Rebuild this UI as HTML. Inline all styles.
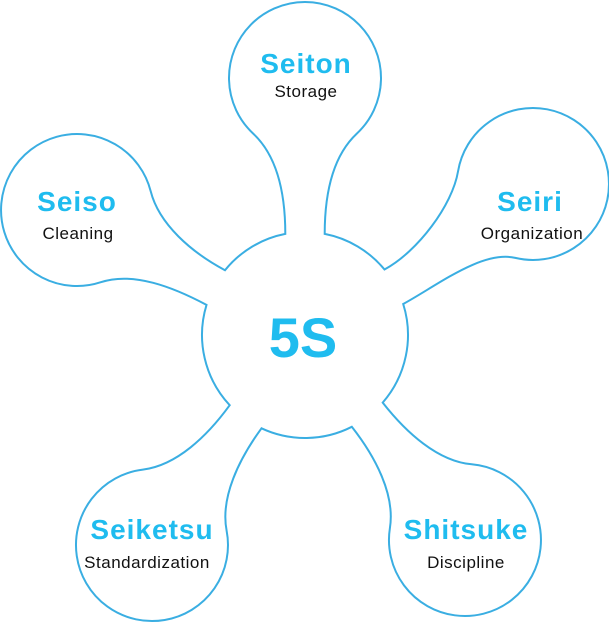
<!DOCTYPE html>
<html><head><meta charset="utf-8"><style>
html,body{margin:0;padding:0;background:#fff;width:609px;height:623px;overflow:hidden}
svg{display:block}
.t{font-family:"Liberation Sans",sans-serif;font-weight:bold;fill:#1fbcef;text-anchor:middle;letter-spacing:1px}
.s{font-family:"Liberation Sans",sans-serif;fill:#111;text-anchor:middle;font-size:17px;letter-spacing:0.5px}
</style></head><body>
<svg id="svg" width="609" height="623" viewBox="0 0 609 623">
<path id="p" fill="none" stroke="#3aaee2" stroke-width="2" d=""/>
<text class="t" x="306" y="73" font-size="28">Seiton</text>
<text class="s" x="306" y="97">Storage</text>
<text class="t" x="530" y="211" font-size="28">Seiri</text>
<text class="s" x="532" y="239">Organization</text>
<text class="t" x="77" y="211" font-size="28">Seiso</text>
<text class="s" x="78" y="239">Cleaning</text>
<text class="t" x="152" y="539" font-size="28">Seiketsu</text>
<text class="s" x="147" y="568">Standardization</text>
<text class="t" x="466" y="539" font-size="28">Shitsuke</text>
<text class="s" x="466" y="568">Discipline</text>
<text class="t" x="303" y="357" font-size="56" style="letter-spacing:0">5S</text>
</svg>
<script>
(function(){
var cx=305,cy=335,R=103,r=76;
var petals=[[-90,305,78],[-28.5,533,184],[52,465,540],[126,152,545],[208,77,210]];
var D=Math.PI/180,d="",f=function(v){return v.toFixed(1)};
var pts=petals.map(function(p){
 var m=p[0]*D,a1=m-11*D,a2=m+11*D;
 var c1=[cx+R*Math.cos(a1),cy+R*Math.sin(a1)],c2=[cx+R*Math.cos(a2),cy+R*Math.sin(a2)];
 var rad=[Math.cos(m),Math.sin(m)];
 var back=Math.atan2(cy-p[2],cx-p[1]);
 var j1a=back+43*D,j2a=back-43*D;
 var j1=[p[1]+r*Math.cos(j1a),p[2]+r*Math.sin(j1a)],j2=[p[1]+r*Math.cos(j2a),p[2]+r*Math.sin(j2a)];
 var t1=[-Math.sin(j1a),Math.cos(j1a)],t2=[-Math.sin(j2a),Math.cos(j2a)];
 return {c1:c1,c2:c2,rad:rad,j1:j1,j2:j2,t1:t1,t2:t2};
});
var k1=38,k2=34;
pts.forEach(function(q,i){
 if(i==0)d+="M"+f(q.c1[0])+","+f(q.c1[1]);
 d+=" C"+f(q.c1[0]+q.rad[0]*k1)+","+f(q.c1[1]+q.rad[1]*k1)+" "+f(q.j1[0]-q.t1[0]*k2)+","+f(q.j1[1]-q.t1[1]*k2)+" "+f(q.j1[0])+","+f(q.j1[1]);
 d+=" A"+r+","+r+" 0 1 1 "+f(q.j2[0])+","+f(q.j2[1]);
 d+=" C"+f(q.j2[0]+q.t2[0]*k2)+","+f(q.j2[1]+q.t2[1]*k2)+" "+f(q.c2[0]+q.rad[0]*k1)+","+f(q.c2[1]+q.rad[1]*k1)+" "+f(q.c2[0])+","+f(q.c2[1]);
 var n=pts[(i+1)%pts.length];
 d+=" A"+R+","+R+" 0 0 1 "+f(n.c1[0])+","+f(n.c1[1]);
});
d+="Z";
document.getElementById("p").setAttribute("d",d);
})();
</script>
</body></html>
